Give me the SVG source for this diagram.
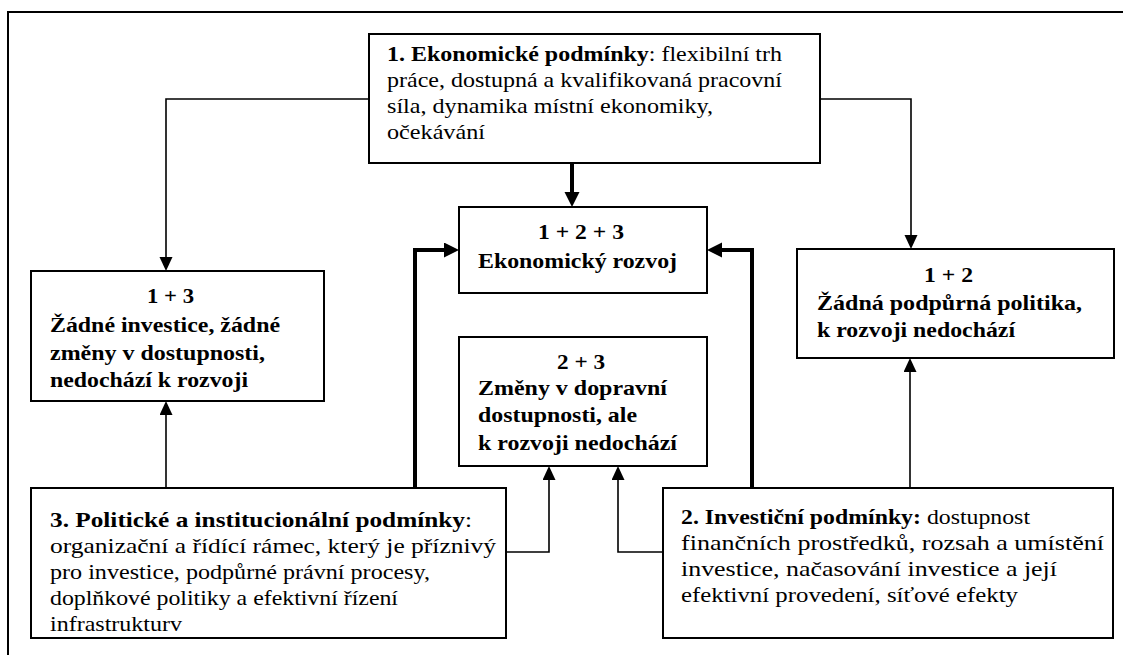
<svg xmlns="http://www.w3.org/2000/svg" width="1123" height="655" viewBox="0 0 1123 655">
<style>
.box{fill:#fff;stroke:#000;stroke-width:2}
.thin{fill:none;stroke:#000;stroke-width:1.6}
.thick{fill:none;stroke:#000;stroke-width:4}
text{font-family:'Liberation Serif','Times New Roman',serif;font-size:21px;fill:#000}
.b{font-weight:bold}
</style>
<defs>
<marker id="ah" markerUnits="userSpaceOnUse" markerWidth="14" markerHeight="14" refX="0" refY="6.5" orient="auto"><path d="M0,0 L14,6.5 L0,13 z" fill="#000"/></marker>
<marker id="ahb" markerUnits="userSpaceOnUse" markerWidth="16" markerHeight="16" refX="0" refY="7.5" orient="auto"><path d="M0,0 L15,7.5 L0,15 z" fill="#000"/></marker>
</defs>
<rect x="0" y="0" width="1123" height="655" fill="#fff"/>
<rect x="8" y="12" width="1140" height="700" fill="none" stroke="#000" stroke-width="2"/>
<g id="connectors">
<path class="thin" d="M369,99 H166 V257" marker-end="url(#ah)"/>
<path class="thin" d="M820,99 H911 V235" marker-end="url(#ah)"/>
<path class="thick" d="M572,163 V192" marker-end="url(#ahb)"/>
<path class="thin" d="M166,488 V415" marker-end="url(#ah)"/>
<path class="thick" d="M415,488 V250 H444" marker-end="url(#ahb)"/>
<path class="thick" d="M752,488 V250 H722" marker-end="url(#ahb)"/>
<path class="thin" d="M506,552 H549 V480" marker-end="url(#ah)"/>
<path class="thin" d="M663,552 H618 V480" marker-end="url(#ah)"/>
<path class="thin" d="M910,488 V372" marker-end="url(#ah)"/>
</g>
<g id="n1">
<rect class="box" x="369" y="34" width="451" height="129"/>
<text x="387" y="61" textLength="395" lengthAdjust="spacingAndGlyphs"><tspan font-weight="bold">1. Ekonomické podmínky</tspan>: flexibilní trh</text>
<text x="387" y="87" textLength="395" lengthAdjust="spacingAndGlyphs">práce, dostupná a kvalifikovaná pracovní</text>
<text x="387" y="113" textLength="326" lengthAdjust="spacingAndGlyphs">síla, dynamika místní ekonomiky,</text>
<text x="387" y="139" textLength="98" lengthAdjust="spacingAndGlyphs">očekávání</text>
</g>
<g id="n13">
<rect class="box" x="31" y="271" width="293" height="130"/>
<text class="b" x="170.5" y="303" text-anchor="middle" textLength="47" lengthAdjust="spacingAndGlyphs">1 + 3</text>
<text class="b" x="50" y="332" textLength="230" lengthAdjust="spacingAndGlyphs">Žádné investice, žádné</text>
<text class="b" x="50" y="360" textLength="215" lengthAdjust="spacingAndGlyphs">změny v dostupnosti,</text>
<text class="b" x="50" y="387" textLength="198" lengthAdjust="spacingAndGlyphs">nedochází k rozvoji</text>
</g>
<g id="n123">
<rect class="box" x="459" y="207" width="248" height="86"/>
<text class="b" x="581" y="239" text-anchor="middle" textLength="86" lengthAdjust="spacingAndGlyphs">1 + 2 + 3</text>
<text class="b" x="478" y="268" textLength="199" lengthAdjust="spacingAndGlyphs">Ekonomický rozvoj</text>
</g>
<g id="n12">
<rect class="box" x="797" y="249" width="317" height="109"/>
<text class="b" x="948.5" y="282" text-anchor="middle" textLength="49" lengthAdjust="spacingAndGlyphs">1 + 2</text>
<text class="b" x="817" y="310" textLength="265" lengthAdjust="spacingAndGlyphs">Žádná podpůrná politika,</text>
<text class="b" x="817" y="337" textLength="198" lengthAdjust="spacingAndGlyphs">k rozvoji nedochází</text>
</g>
<g id="n23">
<rect class="box" x="459" y="337" width="248" height="129"/>
<text class="b" x="581" y="369" text-anchor="middle" textLength="48" lengthAdjust="spacingAndGlyphs">2 + 3</text>
<text class="b" x="478" y="395" textLength="189" lengthAdjust="spacingAndGlyphs">Změny v dopravní</text>
<text class="b" x="478" y="422" textLength="159" lengthAdjust="spacingAndGlyphs">dostupnosti, ale</text>
<text class="b" x="478" y="450" textLength="199" lengthAdjust="spacingAndGlyphs">k rozvoji nedochází</text>
</g>
<g id="n3">
<rect class="box" x="31" y="488" width="475" height="150"/>
<text x="50" y="527" textLength="422" lengthAdjust="spacingAndGlyphs"><tspan font-weight="bold">3. Politické a institucionální podmínky</tspan>:</text>
<text x="50" y="553" textLength="446" lengthAdjust="spacingAndGlyphs">organizační a řídící rámec, který je příznivý</text>
<text x="50" y="579" textLength="380" lengthAdjust="spacingAndGlyphs">pro investice, podpůrné právní procesy,</text>
<text x="50" y="605" textLength="348" lengthAdjust="spacingAndGlyphs">doplňkové politiky a efektivní řízení</text>
<text x="50" y="631" textLength="132" lengthAdjust="spacingAndGlyphs">infrastrukturv</text>
</g>
<g id="n2">
<rect class="box" x="663" y="488" width="450" height="150"/>
<text x="681" y="524" textLength="349" lengthAdjust="spacingAndGlyphs"><tspan font-weight="bold">2. Investiční podmínky:</tspan> dostupnost</text>
<text x="681" y="550" textLength="423" lengthAdjust="spacingAndGlyphs">finančních prostředků, rozsah a umístění</text>
<text x="681" y="576" textLength="376" lengthAdjust="spacingAndGlyphs">investice, načasování investice a její</text>
<text x="681" y="602" textLength="337" lengthAdjust="spacingAndGlyphs">efektivní provedení, síťové efekty</text>
</g>
</svg>
